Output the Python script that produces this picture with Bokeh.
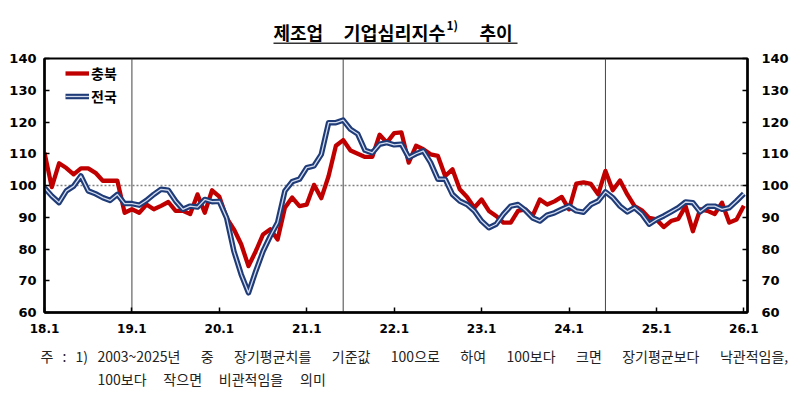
from bokeh.plotting import figure
from bokeh.layouts import column, row
from bokeh.models import (Range1d, LinearAxis, Span, Label, Legend, LegendItem,
                          FixedTicker, ColumnDataSource, BoxAnnotation)
from bokeh.embed import file_html
from bokeh.resources import INLINE

# ---------------- data ----------------
years = ["18", "19", "20", "21", "22", "23", "24", "25", "26"]
months = [f"{y}.{m}" for y in years for m in range(1, 13)][:97]
year_ticks = [f"{y}.1" for y in years]

chungbuk = [110.3, 99.5, 107, 105.5, 103.5, 105.4, 105.4, 104, 101.5, 101.5, 101.5, 91.4,
            92.5, 91.4, 94, 92.5, 93.6, 94.8, 92, 92, 91, 97.2, 91.4, 98.5,
            96.5, 89.8, 86.2, 81.5, 74.6, 79.3, 84.6, 86.2, 83, 93, 96.2, 93.5,
            94, 100.2, 96, 103, 112.5, 114.3, 111, 110, 109, 109, 116, 113.5,
            116.5, 116.7, 107.2, 112.5, 111.4, 109.8, 109.3, 103, 105.1, 98.8, 96.4, 93,
            95.6, 92, 90.4, 88.3, 88.3, 92, 92.5, 90.4, 95.6, 94, 95, 96.4,
            92.5, 100.6, 101, 100.5, 97.2, 104.6, 98.5, 101.6, 97.2, 93.5, 92.2, 89.8,
            89.3, 86.9, 88.8, 89.5, 93.5, 85.6, 92.5, 92, 91, 94.6, 88.3, 89.3,
            93.6]
jeonguk = [99.3, 96.7, 94.6, 98.3, 99.8, 103, 98.3, 97.4, 96.2, 95.3, 97.2, 94.3,
           94.3, 93.8, 95.3, 97.2, 98.8, 98.5, 95.1, 92.5, 93.5, 93.2, 95.6, 94.9,
           95, 89.8, 79.3, 72, 66.2, 73, 79.3, 84.1, 88.3, 98.3, 101.2, 102,
           105.6, 106.2, 109.8, 119.8, 119.8, 120.6, 117.7, 116.2, 111.1, 110.3, 113, 113.5,
           112.8, 113, 108.8, 110, 110.9, 107.2, 102, 102, 97.2, 95.1, 94, 92,
           88.8, 86.7, 87.8, 91, 93.5, 94, 92.2, 89.8, 88.8, 90.7, 91.4, 92.5,
           93.5, 92, 91.6, 94, 95.1, 98, 96.2, 93.5, 91.7, 93, 91, 87.8,
           89.3, 90.4, 91.7, 93, 94.8, 94.6, 91.7, 93.5, 93.5, 92.5, 93, 95.1,
           97.4]
marker_months = ["19.1", "21.6", "24.6"]
baseline = 100
y_ticks = [60, 70, 80, 90, 100, 110, 120, 130, 140]

title_parts = ["제조업", "기업심리지수", "1)", "추이"]
note_head = ["주", ":", "1)"]
note_line1 = ["2003~2025년", "중", "장기평균치를", "기준값", "100으로",
              "하여", "100보다", "크면", "장기평균보다", "낙관적임을,"]
note_line2 = ["100보다", "작으면", "비관적임을", "의미"]

KR = "Noto Sans CJK KR"
W = 792


def text_panel(h):
    f = figure(width=W, height=h, min_border=0, x_range=Range1d(0, W), y_range=Range1d(h, 0),
               x_axis_type=None, y_axis_type=None, output_backend="svg", toolbar_location=None)
    f.xgrid.visible = False
    f.ygrid.visible = False
    f.outline_line_color = None
    return f


def lab(f, text, x, y, size, bold=False, color="black"):
    f.add_layout(Label(x=x, y=y, text=text, text_font=KR, text_font_size=size,
                       text_font_style="bold" if bold else "normal",
                       text_color=color, text_baseline="middle", text_align="left"))


def est_width(word, fs):
    w = 0.0
    for ch in word:
        if "\uac00" <= ch <= "\ud7a3":
            w += 0.92 * fs
        elif ch.isdigit() or ch == "~":
            w += 0.555 * fs
        else:
            w += 0.3 * fs
    return w


# ---------------- title panel ----------------
TOP_H = 48
top = text_panel(TOP_H)
lab(top, title_parts[0], 273, 31, "18px", True)
lab(top, title_parts[1], 343, 31, "18.5px", True)
lab(top, title_parts[2], 446, 24, "12px", True)
lab(top, title_parts[3], 479, 31, "18px", True)
top.add_layout(BoxAnnotation(left=273, right=517, top=42, bottom=43.5,
                             fill_color="#333333", fill_alpha=1, line_alpha=0))

# ---------------- main chart ----------------
xs = list(range(len(months)))
src = ColumnDataSource(dict(x=xs, cb=chungbuk, nat=jeonguk))

p = figure(frame_width=703, frame_height=254,
           min_border_left=44, min_border_right=45, min_border_top=10, min_border_bottom=30,
           x_range=Range1d(0, 96.5), y_range=Range1d(60, 140),
           output_backend="svg", toolbar_location=None)
p.xgrid.visible = False
p.ygrid.visible = False
p.outline_line_color = "black"
p.outline_line_width = 2

p.xaxis.ticker = FixedTicker(ticks=[months.index(t) for t in year_ticks])
p.xaxis.major_label_overrides = {months.index(t): t for t in year_ticks}
p.yaxis.ticker = FixedTicker(ticks=y_ticks)

raxis = LinearAxis(ticker=FixedTicker(ticks=y_ticks))
p.add_layout(raxis, "right")

for ax in [p.xaxis[0], p.yaxis[0], raxis]:
    ax.axis_line_width = 2.5
    ax.axis_line_color = "black"
    ax.major_tick_in = 5
    ax.major_tick_out = 0
    ax.major_tick_line_width = 1.5
    ax.major_tick_line_color = "black"
    ax.minor_tick_line_color = None
    ax.major_label_text_font = "DejaVu Sans"
    ax.major_label_text_font_style = "bold"
    ax.major_label_text_color = "black"
    ax.major_label_text_font_size = "13px"
p.xaxis[0].major_label_text_font_size = "12px"
p.xaxis[0].major_label_standoff = 11
p.yaxis[0].major_label_standoff = 8
raxis.major_label_standoff = 14

for m in marker_months:
    p.add_layout(Span(location=months.index(m), dimension="height",
                      line_color="#444444", line_width=1, level="underlay"))
p.add_layout(Span(location=baseline, dimension="width", line_color="#808080",
                  line_width=1.5, line_dash="2 2", level="underlay"))

red = p.line("x", "cb", source=src, line_color="#C00000", line_width=4.3, line_join="round")
blue_o = p.line("x", "nat", source=src, line_color="#1F3C78", line_width=5.5, line_join="round")
blue_i = p.line("x", "nat", source=src, line_color="#d3dcef", line_width=1.3, line_join="round")

legend = Legend(items=[LegendItem(label="충북", renderers=[red]),
                       LegendItem(label="전국", renderers=[blue_o, blue_i])],
                location=(21, 206), padding=0, margin=0, spacing=3,
                glyph_width=24, glyph_height=20, label_height=20, label_standoff=2,
                label_text_font=KR, label_text_font_style="bold",
                label_text_font_size="14px", label_text_color="black",
                background_fill_alpha=0, border_line_alpha=0)
p.add_layout(legend)

# ---------------- footnote panel (page y 342..392) ----------------
BOT_H = 50
FS = 14
bot = text_panel(BOT_H)
for w, px in zip(note_head, [40, 62, 75]):
    lab(bot, w, px, 13, f"{FS}px", False, "#222222")
# justified first line between x=97 and x=788
start, end = 97, 788
widths = [est_width(w, FS) for w in note_line1]
gap = (end - start - sum(widths)) / (len(note_line1) - 1)
x = start
for w, wd in zip(note_line1, widths):
    lab(bot, w, x, 13, f"{FS}px", False, "#222222")
    x += wd + gap
x = start
for w in note_line2:
    lab(bot, w, x, 36, f"{FS}px", False, "#222222")
    x += est_width(w, FS) + 1.2 * FS

layout = column(row(top), p, row(bot), spacing=0)
open("out.html", "w").write(file_html(layout, INLINE))
